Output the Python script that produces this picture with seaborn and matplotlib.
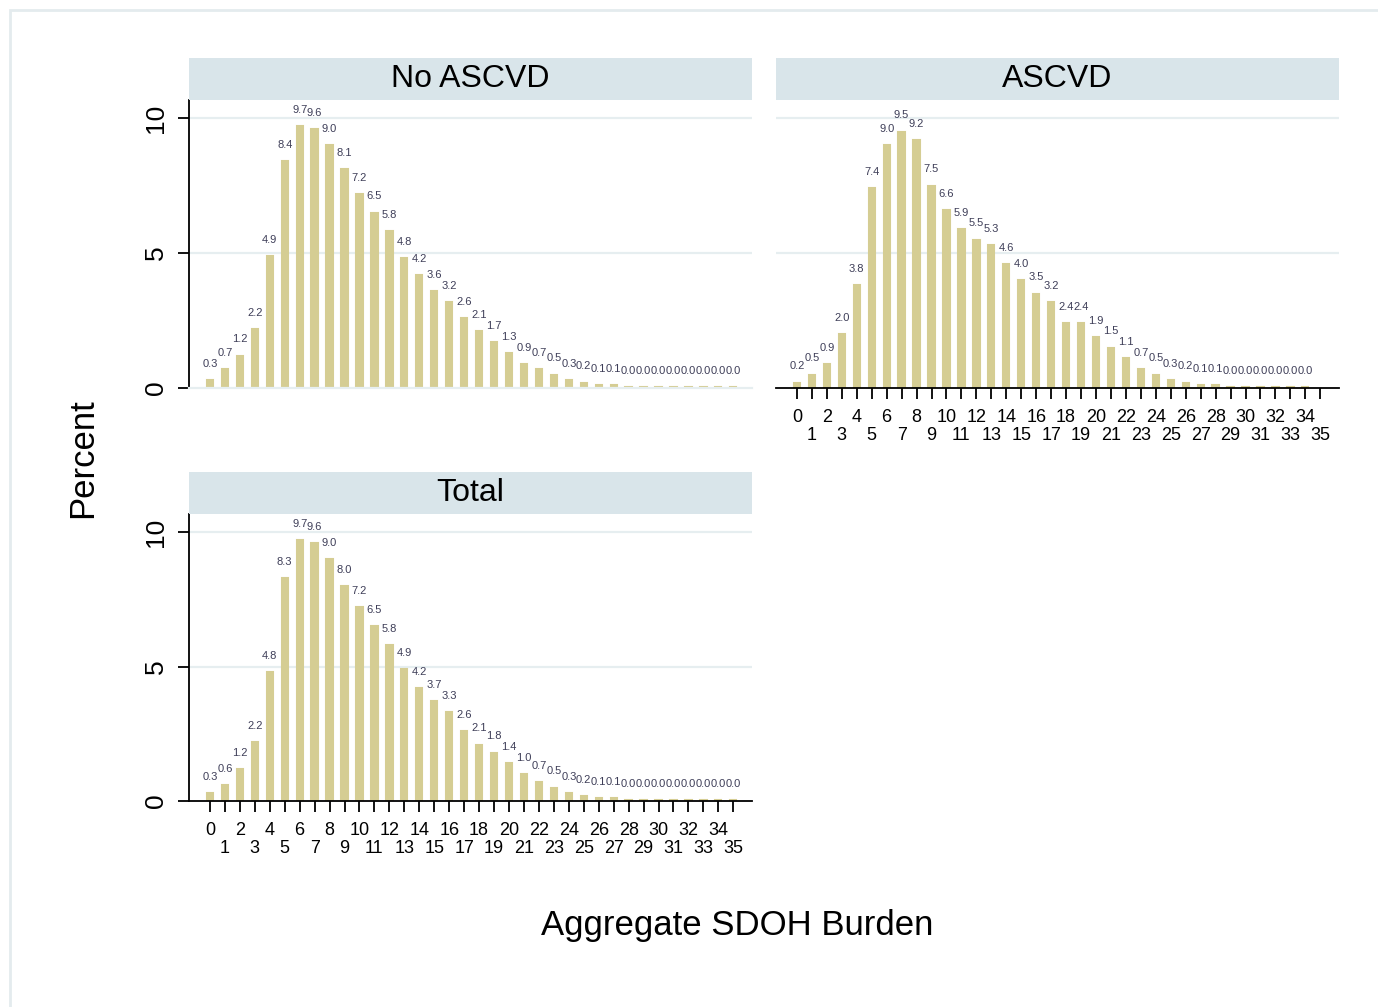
import numpy as np
import pandas as pd
import matplotlib
matplotlib.use("Agg")
import matplotlib.pyplot as plt
from matplotlib.patches import Rectangle
import seaborn as sns

# percent of patients at each aggregate SDOH burden score
scores = list(range(36))
no_ascvd = [0.3, 0.7, 1.2, 2.2, 4.9, 8.4, 9.7, 9.6, 9.0, 8.1, 7.2, 6.5,
            5.8, 4.8, 4.2, 3.6, 3.2, 2.6, 2.1, 1.7, 1.3, 0.9, 0.7, 0.5,
            0.3, 0.2, 0.1, 0.1, 0.04, 0.04, 0.03, 0.03, 0.03, 0.02, 0.02, 0.02]
ascvd = [0.2, 0.5, 0.9, 2.0, 3.8, 7.4, 9.0, 9.5, 9.2, 7.5, 6.6, 5.9,
         5.5, 5.3, 4.6, 4.0, 3.5, 3.2, 2.4, 2.4, 1.9, 1.5, 1.1, 0.7,
         0.5, 0.3, 0.2, 0.1, 0.1, 0.04, 0.04, 0.03, 0.03, 0.02, 0.02]
total = [0.3, 0.6, 1.2, 2.2, 4.8, 8.3, 9.7, 9.6, 9.0, 8.0, 7.2, 6.5,
         5.8, 4.9, 4.2, 3.7, 3.3, 2.6, 2.1, 1.8, 1.4, 1.0, 0.7, 0.5,
         0.3, 0.2, 0.1, 0.1, 0.04, 0.04, 0.03, 0.03, 0.03, 0.02, 0.02, 0.02]
panel_titles = ["No ASCVD", "ASCVD", "Total"]

bar_col = "#d5cd93"
strip_col = "#d9e5ea"
grid_col = "#e6eef0"
lab_col = "#3e3e58"

sns.set_theme(style="white")
plt.rcParams["font.family"] = ["Liberation Sans", "DejaVu Sans"]

W, H = 1378, 1007
fig = plt.figure(figsize=(W / 100, H / 100), dpi=100)


def px_axes(l, t, r, b):
    return fig.add_axes([l / W, 1 - b / H, (r - l) / W, (b - t) / H])


# light outer frame
fig.patches.append(Rectangle((10 / W, -0.05), 1.1, 1 - 10 / H + 0.05,
                             transform=fig.transFigure, fill=False,
                             edgecolor="#e4ebee", linewidth=2))

panels = [
    (no_ascvd, (189, 100, 752, 388), True, False),
    (ascvd, (776, 100, 1339, 388), False, True),
    (total, (189, 514, 752, 801), True, True),
]

for (vals, box, show_y, show_x), title in zip(panels, panel_titles):
    l, t, r, b = box
    ax = px_axes(l, t, r, b)
    df = pd.DataFrame({"score": scores[:len(vals)], "pct": vals})
    for yv in [5, 10]:
        ax.axhline(yv, color=grid_col, lw=1.6, zorder=0)
    sns.barplot(data=df, x="score", y="pct", native_scale=True, width=0.42,
                color=bar_col, saturation=1, errorbar=None, ax=ax, zorder=2,
                edgecolor=bar_col, linewidth=1.5)
    ax.bar_label(ax.containers[0], fmt="%.1f", padding=8, fontsize=8,
                 color=lab_col)
    ax.set_xlim(-1.4, 36.25)
    ax.set_ylim(0, 10.67)
    ax.set_xlabel("")
    ax.set_ylabel("")
    for s in ["top", "right"]:
        ax.spines[s].set_visible(False)

    if show_y:
        ax.spines["left"].set_color("black")
        ax.spines["left"].set_linewidth(1.3)
        ax.set_yticks([0, 5, 10])
        ax.tick_params(axis="y", left=True, length=8, width=1.3,
                       labelsize=19, pad=7, labelrotation=90, colors="black")
        for lab in ax.get_yticklabels():
            lab.set_va("center")
    else:
        ax.spines["left"].set_visible(False)
        ax.set_yticks([])

    if show_x:
        ax.spines["bottom"].set_color("black")
        ax.spines["bottom"].set_linewidth(1.3)
        ax.set_xticks(list(range(0, 36, 2)))
        ax.set_xticks(list(range(1, 36, 2)), minor=True)
        ax.set_xticklabels([str(v) for v in range(0, 36, 2)])
        ax.set_xticklabels([str(v) for v in range(1, 36, 2)], minor=True)
        ax.tick_params(axis="x", which="major", bottom=True, length=8,
                       width=1.3, labelsize=13, pad=7, colors="black")
        ax.tick_params(axis="x", which="minor", bottom=True, length=8,
                       width=1.3, labelsize=13, pad=20, colors="black")
    else:
        ax.spines["bottom"].set_color(grid_col)
        ax.spines["bottom"].set_linewidth(1.6)
        ax.set_xticks([])

    # facet strip
    sax = px_axes(l, t - 42, r, t)
    sax.set_facecolor(strip_col)
    sax.set_xticks([])
    sax.set_yticks([])
    for s in sax.spines.values():
        s.set_visible(False)
    sax.text(0.5, 0.5, title, ha="center", va="center", fontsize=23,
             color="black", transform=sax.transAxes)

fig.text(83 / W, 1 - 458 / H, "Percent", rotation=90, ha="center",
         va="center", fontsize=25, color="black")
fig.text(737 / W, 1 - 925 / H, "Aggregate SDOH Burden", ha="center",
         va="center", fontsize=25, color="black")

fig.savefig("out.png", dpi=100, facecolor="white")
